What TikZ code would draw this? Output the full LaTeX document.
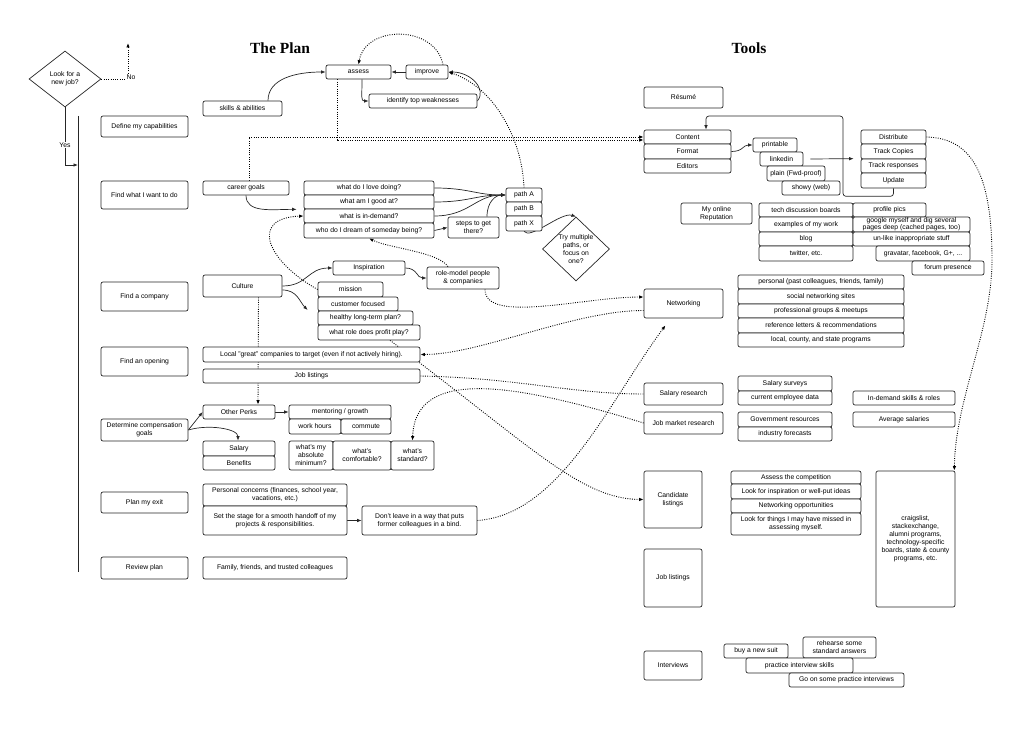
\documentclass[tikz,border=0pt]{standalone}
\usepackage{fontspec}
\setmainfont{Liberation Sans}
\newfontfamily\titlefont{Liberation Serif}
\usetikzlibrary{shapes.geometric}
\usetikzlibrary{arrows.meta}
\usetikzlibrary{calc}
\pgfdeclarelayer{background}
\pgfsetlayers{background,main}

\begin{document}
\begin{tikzpicture}[x=1pt,y=1pt,yscale=-1,
  box/.style={draw=black!85,line width=0.7pt,rounded corners=2pt,fill=white,inner sep=0pt,align=center,font=\fontsize{6.8}{8}\selectfont},
  choice/.style={diamond,draw=black!85,line width=0.7pt,fill=white,inner sep=0pt,align=center,font=\fontsize{6.8}{8}\selectfont},
  title/.style={font=\titlefont\bfseries\fontsize{15.5}{18}\selectfont},
  lbl/.style={fill=white,inner sep=0.8pt,font=\fontsize{6.8}{8}\selectfont},
  link/.style={line width=0.7pt,draw=black!85},
  arr/.style={link,-{Latex[length=4.5pt,width=3.5pt]}},
  dots/.style={line width=0.9pt,dash pattern=on 0.9pt off 1.4pt},
  darr/.style={dots,-{Latex[length=4.5pt,width=3.5pt]}}
]
\useasboundingbox (0,0) rectangle (1024,751);

% Titles
\node[title] (plantitle) at (280,48) {The Plan};
\node[title] (toolstitle) at (749,48) {Tools};

% Start decision
\node[choice,minimum width=72,minimum height=56] (lookjob) at (65,79) {Look for a\\new job?};
\coordinate (noend) at (128,43);
\coordinate (yesend) at (78,165);
\coordinate (railtop) at (78,116);
\coordinate (railbot) at (78,572);

% Steps of the plan
\node[box,minimum width=87,minimum height=21] (define) at (144.5,126.5) {Define my capabilities};
\node[box,minimum width=87,minimum height=28] (findwhat) at (144.5,195) {Find what I want to do};
\node[box,minimum width=87,minimum height=29] (findco) at (144.5,296.5) {Find a company};
\node[box,minimum width=87,minimum height=29] (findopen) at (144.5,361.5) {Find an opening};
\node[box,minimum width=87,minimum height=22] (compgoals) at (144.5,430) {Determine compensation\\goals};
\node[box,minimum width=87,minimum height=21] (exitplan) at (144.5,502.5) {Plan my exit};
\node[box,minimum width=87,minimum height=22] (review) at (144.5,568) {Review plan};

% Capabilities
\node[box,minimum width=65,minimum height=14] (assess) at (358.5,72) {assess};
\node[box,minimum width=42,minimum height=14] (improve) at (427,72) {improve};
\node[box,minimum width=108,minimum height=14] (weakness) at (423,101) {identify top weaknesses};
\node[box,minimum width=79,minimum height=15] (skills) at (242.5,108.5) {skills \& abilities};

% What I want to do
\node[box,minimum width=86,minimum height=14] (career) at (246,188) {career goals};
\node[box,minimum width=130,minimum height=14] (love) at (369,188) {what do I love doing?};
\node[box,minimum width=130,minimum height=14] (good) at (369,202) {what am I good at?};
\node[box,minimum width=130,minimum height=14] (indemand) at (369,216) {what is in-demand?};
\node[box,minimum width=130,minimum height=15] (dream) at (369,230.5) {who do I dream of someday being?};
\node[box,minimum width=51,minimum height=21] (steps) at (473.5,227.5) {steps to get\\there?};
\node[box,minimum width=36,minimum height=14] (pathA) at (524,195) {path A};
\node[box,minimum width=36,minimum height=14] (pathB) at (524,209) {path B};
\node[box,minimum width=36,minimum height=15] (pathX) at (524,223.5) {path X};
\node[choice,minimum width=67,minimum height=64] (trypaths) at (576,249) {Try multiple\\paths, or\\focus on\\one?};
\coordinate (qin) at ($(good.south west)+(-7,0)$);

% Company
\node[box,minimum width=79,minimum height=22] (culture) at (242.5,286) {Culture};
\node[box,minimum width=72,minimum height=14] (inspiration) at (369,268) {Inspiration};
\node[box,minimum width=72,minimum height=22] (rolemodel) at (463,278) {role-model people\\\& companies};
\node[box,minimum width=65,minimum height=15] (mission) at (350.5,289.5) {mission};
\node[box,minimum width=80,minimum height=14] (customer) at (358,304) {customer focused};
\node[box,minimum width=95,minimum height=14] (healthy) at (365.5,318) {healthy long-term plan?};
\node[box,minimum width=102,minimum height=15] (profit) at (369,332.5) {what role does profit play?};
\coordinate (custin) at ($(customer.west)+(-10,6)$);

% Opening
\node[box,minimum width=217,minimum height=15] (localgreat) at (311.5,354.5) {Local "great" companies to target (even if not actively hiring).};
\node[box,minimum width=217,minimum height=14] (joblist) at (311.5,376) {Job listings};

% Compensation
\node[box,minimum width=72,minimum height=14] (perks) at (239,412) {Other Perks};
\node[box,minimum width=102,minimum height=14] (mentor) at (340,412) {mentoring / growth};
\node[box,minimum width=52,minimum height=15] (workhours) at (315,426.5) {work hours};
\node[box,minimum width=50,minimum height=15] (commute) at (366,426.5) {commute};
\node[box,minimum width=72,minimum height=15] (salary) at (239,448.5) {Salary};
\node[box,minimum width=72,minimum height=14] (benefits) at (239,463) {Benefits};
\node[box,minimum width=44,minimum height=29] (minimum) at (311,455.5) {what's my\\absolute\\minimum?};
\node[box,minimum width=58,minimum height=29] (comfortable) at (362,455.5) {what's\\comfortable?};
\node[box,minimum width=43,minimum height=29] (standard) at (412.5,455.5) {what's\\standard?};

% Exit and review
\node[box,minimum width=144,minimum height=22] (personal) at (275,495) {Personal concerns (finances, school year,\\vacations, etc.)};
\node[box,minimum width=144,minimum height=29] (handoff) at (275,520.5) {Set the stage for a smooth handoff of my\\projects \& responsibilities.};
\node[box,minimum width=115,minimum height=29] (dontleave) at (419.5,520.5) {Don't leave in a way that puts\\former colleagues in a bind.};
\node[box,minimum width=144,minimum height=22] (family) at (275,568) {Family, friends, and trusted colleagues};

% Tools: resume
\node[box,minimum width=79,minimum height=21] (resume) at (683.5,97.5) {Résumé};
\node[box,minimum width=87,minimum height=14] (content) at (687.5,137) {Content};
\node[box,minimum width=87,minimum height=15] (format) at (687.5,151.5) {Format};
\node[box,minimum width=87,minimum height=14] (editors) at (687.5,166) {Editors};
\node[box,minimum width=44,minimum height=14] (printable) at (775,145) {printable};
\node[box,minimum width=43,minimum height=14] (linkedin) at (781.5,159) {linkedin};
\node[box,minimum width=58,minimum height=15] (plain) at (796,173.5) {plain (Fwd-proof)};
\node[box,minimum width=58,minimum height=14] (showy) at (811,188) {showy (web)};
\node[box,minimum width=65,minimum height=14] (distribute) at (893.5,137) {Distribute};
\node[box,minimum width=65,minimum height=15] (trackcopies) at (893.5,151.5) {Track Copies};
\node[box,minimum width=65,minimum height=14] (trackresp) at (893.5,166) {Track responses};
\node[box,minimum width=65,minimum height=15] (update) at (893.5,180.5) {Update};
\coordinate (loopturn) at (843,116);

% Tools: reputation
\node[box,minimum width=71,minimum height=21] (reputation) at (716.5,213.5) {My online\\Reputation};
\node[box,minimum width=94,minimum height=14] (techboards) at (806,210) {tech discussion boards};
\node[box,minimum width=94,minimum height=15] (examples) at (806,224.5) {examples of my work};
\node[box,minimum width=94,minimum height=14] (blog) at (806,239) {blog};
\node[box,minimum width=94,minimum height=15] (twitter) at (806,253.5) {twitter, etc.};
\node[box,minimum width=73,minimum height=14] (profilepics) at (889.5,210) {profile pics};
\node[box,minimum width=117,minimum height=15,font=\fontsize{6.8}{7}\selectfont] (google) at (911.5,224.5) {google myself and dig several\\pages deep (cached pages, too)};
\node[box,minimum width=117,minimum height=14] (unlike) at (911.5,239) {un-like inappropriate stuff};
\node[box,minimum width=94,minimum height=15] (gravatar) at (923,253.5) {gravatar, facebook, G+, ...};
\node[box,minimum width=72,minimum height=14] (forum) at (948,268) {forum presence};

% Tools: networking
\node[box,minimum width=79,minimum height=29] (networking) at (683.5,303.5) {Networking};
\node[box,minimum width=166,minimum height=14] (pastcontacts) at (821,282) {personal (past colleagues, friends, family)};
\node[box,minimum width=166,minimum height=15] (social) at (821,296.5) {social networking sites};
\node[box,minimum width=166,minimum height=14] (groups) at (821,311) {professional groups \& meetups};
\node[box,minimum width=166,minimum height=15] (references) at (821,325.5) {reference letters \& recommendations};
\node[box,minimum width=166,minimum height=14] (programs) at (821,340) {local, county, and state programs};
\coordinate (netin) at ($(networking.south)+(-18,7)$);

% Tools: research
\node[box,minimum width=79,minimum height=22] (salresearch) at (683.5,394) {Salary research};
\node[box,minimum width=94,minimum height=15] (salsurveys) at (785,383.5) {Salary surveys};
\node[box,minimum width=94,minimum height=14] (current) at (785,398) {current employee data};
\node[box,minimum width=102,minimum height=14] (indemandskills) at (904,398) {In-demand skills \& roles};
\node[box,minimum width=79,minimum height=22] (jobmarket) at (683.5,423) {Job market research};
\node[box,minimum width=94,minimum height=15] (govt) at (785,419.5) {Government resources};
\node[box,minimum width=94,minimum height=14] (forecasts) at (785,434) {industry forecasts};
\node[box,minimum width=102,minimum height=15] (avgsal) at (904,419.5) {Average salaries};

% Tools: listings
\node[box,minimum width=58,minimum height=57] (candidate) at (673,499.5) {Candidate\\listings};
\node[box,minimum width=130,minimum height=13] (competition) at (796,477.5) {Assess the competition};
\node[box,minimum width=130,minimum height=15] (ideas) at (796,491.5) {Look for inspiration or well-put ideas};
\node[box,minimum width=130,minimum height=14] (netopp) at (796,506) {Networking opportunities};
\node[box,minimum width=130,minimum height=22] (missed) at (796,524) {Look for things I may have missed in\\assessing myself.};
\node[box,minimum width=58,minimum height=58] (jobtools) at (673,578) {Job listings};
\node[box,minimum width=79,minimum height=136] (craigslist) at (915.5,539) {craigslist,\\stackexchange,\\alumni programs,\\technology-specific\\boards, state \& county\\programs, etc.};

% Tools: interviews
\node[box,minimum width=58,minimum height=29] (interviews) at (673,665.5) {Interviews};
\node[box,minimum width=64,minimum height=14] (suit) at (756,651) {buy a new suit};
\node[box,minimum width=73,minimum height=21] (rehearse) at (839.5,647.5) {rehearse some\\standard answers};
\node[box,minimum width=107,minimum height=15] (practiceskills) at (799.5,665.5) {practice interview skills};
\node[box,minimum width=115,minimum height=14] (goon) at (846.5,680) {Go on some practice interviews};

% Labels
\node[lbl] (yeslbl) at (65,145) {Yes};
\node[lbl] (nolbl) at (131,77) {No};

\begin{pgfonlayer}{background}
% start
\draw[link] (railtop) -- (railbot);
\draw[arr] (lookjob.south) |- (yesend);
\draw[darr] (lookjob.east) -| (noend);
% capabilities
\draw[arr] ($(skills.north)+(25.5,0)$) .. controls +(0,-22) and +(-30,0) .. (assess.west);
\draw[arr] (improve.west) -- (assess.east);
\draw[arr] ($(assess.south)+(3.5,0)$) .. controls +(0,18) and +(-8,0) .. (weakness.west);
\draw[arr] (weakness.east) .. controls +(10,-12) and +(22,0) .. (improve.east);
\draw[darr] ($(improve.north)+(16,0)$) .. controls +(-8,-40) and +(7,-40) .. (assess.north);
\draw[darr] (pathA.north) .. controls +(-2,-50) and +(45,15) .. (improve.east);
\draw[darr] ($(career.north)+(3,0)$) |- (content.west);
\draw[darr] ($(assess.south)+(-21.5,0)$) |- ($(content.west)+(0,3)$);
% what I want to do
\draw[arr] (career.south) .. controls +(0,18) and +(-25,0) .. (qin);
\draw[arr] (love.east) .. controls +(35,0) and +(-30,0) .. (pathA.west);
\draw[arr] (good.east) .. controls +(35,0) and +(-30,0) .. (pathA.west);
\draw[arr] (indemand.east) .. controls +(35,0) and +(-30,0) .. (pathA.west);
\draw[arr] ($(steps.north)+(13.5,0)$) .. controls +(0,-15) and +(-10,0) .. (pathA.west);
\draw[arr] (dream.east) -- (steps.west);
\draw[arr] (pathX.south) .. controls +(6,9) and +(-15,-5) .. (trypaths.north);
% company
\draw[darr] (mission.west) .. controls (268,262) and (248,218) .. (indemand.west);
\draw[darr] ($(rolemodel.north)+(-15,0)$) .. controls +(-10,-15) and +(20,10) .. (dream.south);
\draw[arr] (culture.east) .. controls +(25,0) and +(-25,0) .. (inspiration.west);
\draw[arr] ($(culture.east)+(0,4)$) .. controls +(15,0) and +(-8,-8) .. (custin);
\draw[arr] (inspiration.east) .. controls +(12,0) and +(-10,0) .. (rolemodel.west);
\draw[darr] ($(rolemodel.south)+(22,0)$) .. controls +(0,35) and +(-60,0) .. ($(networking.west)+(0,-6.5)$);
\draw[darr] ($(networking.west)+(0,7)$) .. controls +(-70,0) and +(60,0) .. (localgreat.east);
\draw[darr] ($(profit.south)+(21,0)$) .. controls (530,445) and (580,499) .. (candidate.west);
\draw[darr] ($(culture.south)+(16,0)$) -- ($(perks.north)+(19,0)$);
% opening and compensation
\draw[dots] (joblist.east) .. controls (520,378) and (570,394) .. (salresearch.west);
\draw[darr] (jobmarket.west) .. controls (520,385) and (415,365) .. (standard.north);
\draw[arr] (compgoals.east) -- (perks.west);
\draw[arr] (compgoals.east) .. controls +(20,-6) and +(0,-12) .. ($(salary.north)+(-1,0)$);
\draw[arr] (perks.east) -- (mentor.west);
% exit
\draw[arr] (handoff.east) -- (dontleave.west);
\draw[darr] (dontleave.east) .. controls (560,515) and (610,400) .. (netin);
% resume
\draw[arr] (format.east) .. controls +(12,0) and +(-10,0) .. (printable.west);
\draw[arr] ($(linkedin.east)+(7,0)$) -- ($(trackresp.north west)+(-7,0)$);
\draw[arr,rounded corners=3] (update.south) -- ++(0,8) -| (loopturn) -| ($(content.north)+(18.5,0)$);
\draw[darr] (distribute.east) .. controls (975,138) and (992,180) .. (992,260) .. controls (992,330) and (955,400) .. ($(craigslist.north east)+(-1,0)$);
\end{pgfonlayer}

\end{tikzpicture}
\end{document}
